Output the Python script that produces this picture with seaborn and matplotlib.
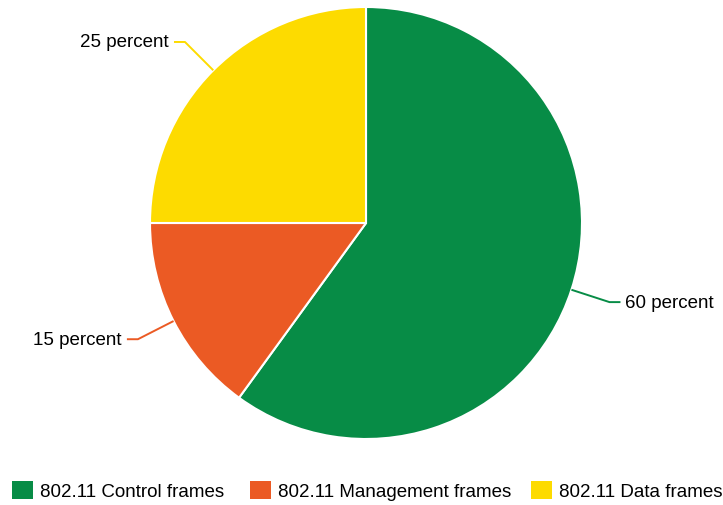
import numpy as np
import matplotlib
matplotlib.use('Agg')
import matplotlib.pyplot as plt
import seaborn as sns
from matplotlib.patches import Patch

# Data
categories = ['802.11 Control frames', '802.11 Management frames', '802.11 Data frames']
shares = [60, 15, 25]
slice_labels = ['60 percent', '15 percent', '25 percent']
colors = ['#078C46', '#EB5A24', '#FDDB00']

sns.set_theme(style='white')
plt.rcParams['font.family'] = ['Liberation Sans', 'DejaVu Sans']

W, H = 723, 506
fig = plt.figure(figsize=(W / 100, H / 100), dpi=100)
ax = fig.add_axes([0, 0, 1, 1])

cx, cy, r = 366, H - 224, 216
wedges, _ = ax.pie(shares, colors=colors, startangle=90, counterclock=False,
                   center=(cx, cy), radius=r,
                   wedgeprops=dict(edgecolor='white', linewidth=1.5))
ax.set_xlim(0, W)
ax.set_ylim(0, H)
ax.set_aspect('equal')
ax.axis('off')

# leader lines: radial segment then short horizontal tick
for w, lab, col in zip(wedges, slice_labels, colors):
    mid = np.deg2rad((w.theta1 + w.theta2) / 2)
    x0, y0 = cx + r * np.cos(mid), cy + r * np.sin(mid)
    x1, y1 = cx + (r + 40) * np.cos(mid), cy + (r + 40) * np.sin(mid)
    side = 1 if np.cos(mid) > 0 else -1
    x2 = x1 + side * 11
    ax.plot([x0, x1, x2], [y0, y1, y1], color=col, lw=1.4, solid_capstyle='butt')
    ax.text(x2 + side * 5, y1, lab, ha='left' if side > 0 else 'right', va='center',
            fontsize=13.5, color='black')

# legend entries are not evenly spaced in the original, so place each one
legend_x = [12, 250, 531]
for c, name, lx in zip(colors, categories, legend_x):
    leg = fig.legend([Patch(facecolor=c, edgecolor='none')], [name], loc='center left',
                     bbox_to_anchor=(lx / W, 1 - 491.5 / H), frameon=False,
                     fontsize=13.5, handlelength=1.12, handleheight=1.12, labelcolor='black',
                     handletextpad=0.38, borderpad=0, borderaxespad=0)

fig.savefig('out.png', dpi=100)
